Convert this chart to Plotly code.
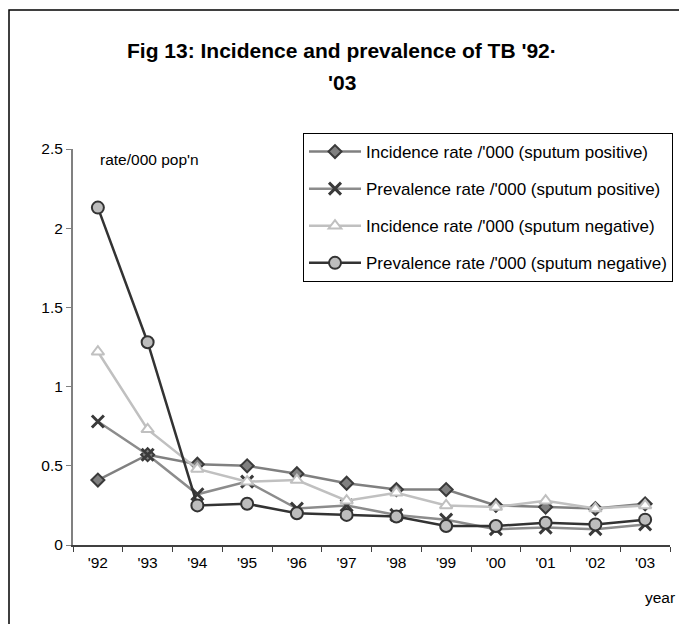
import plotly.graph_objects as go

years = ["'92", "'93", "'94", "'95", "'96", "'97", "'98", "'99", "'00", "'01", "'02", "'03"]
inc_pos = [0.41, 0.57, 0.51, 0.50, 0.45, 0.39, 0.35, 0.35, 0.25, 0.24, 0.23, 0.26]
prev_pos = [0.78, 0.57, 0.32, 0.40, 0.23, 0.25, 0.19, 0.16, 0.10, 0.11, 0.10, 0.13]
inc_neg = [1.22, 0.73, 0.48, 0.40, 0.41, 0.28, 0.33, 0.25, 0.24, 0.28, 0.23, 0.25]
prev_neg = [2.13, 1.28, 0.25, 0.26, 0.20, 0.19, 0.18, 0.12, 0.12, 0.14, 0.13, 0.16]

names = [
    "Incidence rate /'000 (sputum positive)",
    "Prevalence rate /'000 (sputum positive)",
    "Incidence rate /'000 (sputum negative)",
    "Prevalence rate /'000 (sputum negative)",
]

FONT = "Liberation Sans, Arial, sans-serif"

fig = go.Figure()
fig.add_trace(go.Scatter(
    x=years, y=inc_pos, name=names[0], legendgroup="a", mode="lines+markers",
    line=dict(color="#808080", width=2.5),
    marker=dict(symbol="diamond", size=10, color="#808080", line=dict(color="#3a3a3a", width=2)),
))
fig.add_trace(go.Scatter(
    x=years, y=prev_pos, name=names[1], legendgroup="b", mode="lines+markers",
    line=dict(color="#8c8c8c", width=2.5),
    marker=dict(symbol="x-thin", size=12, color="#3a3a3a", line=dict(color="#3a3a3a", width=3)),
))
fig.add_trace(go.Scatter(
    x=years, y=inc_neg, name=names[2], legendgroup="c", mode="lines+markers",
    line=dict(color="#c0c0c0", width=2.5),
    marker=dict(symbol="triangle-up", size=11, color="white", line=dict(color="#c0c0c0", width=2)),
))
fig.add_trace(go.Scatter(
    x=years, y=prev_neg, name=names[3], legendgroup="d", mode="lines+markers",
    line=dict(color="#333333", width=2.5),
    marker=dict(symbol="circle", size=12, color="#bdbdbd", line=dict(color="#333333", width=2)),
))

L, R, T, B = 73, 9, 149, 79
pw, ph = 679 - L - R, 624 - T - B

def px(x):
    return (x - L) / pw

def py(y):
    return (624 - B - y) / ph

fig.update_layout(
    width=679, height=624,
    margin=dict(l=L, r=R, t=T, b=B, autoexpand=False),
    paper_bgcolor="white", plot_bgcolor="white",
    font=dict(family=FONT, size=15, color="black"),
    showlegend=True,
    legend=dict(
        x=px(303), y=py(133), xanchor="left", yanchor="top",
        bordercolor="black", borderwidth=1, bgcolor="white",
        font=dict(family=FONT, size=17, color="black"),
        tracegroupgap=12, itemwidth=52,
    ),
    xaxis=dict(
        type="category", range=[-0.5, 11.5], automargin=False,
        showline=True, linecolor="#404040", linewidth=1.5,
        ticks="outside", tickson="boundaries", ticklen=5, tickcolor="#404040",
        showgrid=False, zeroline=False, ticklabelstandoff=3,
        tickfont=dict(family=FONT, size=15.5, color="black"),
    ),
    yaxis=dict(
        range=[0, 2.5], tickvals=[0, 0.5, 1, 1.5, 2, 2.5], automargin=False,
        ticktext=["0", "0.5", "1", "1.5", "2", "2.5"],
        showline=True, linecolor="#808080", linewidth=2,
        ticks="outside", ticklen=5, tickcolor="#808080",
        showgrid=False, zeroline=False,
        tickfont=dict(family=FONT, size=15.5, color="black"),
    ),
    shapes=[dict(
        type="rect", xref="paper", yref="paper",
        x0=px(9), x1=px(700), y0=py(650), y1=py(10),
        line=dict(color="black", width=1.5), fillcolor="rgba(0,0,0,0)", layer="below",
    )],
    annotations=[
        dict(text="<b>Fig 13: Incidence and prevalence of TB '92·</b>", xref="paper", yref="paper",
             x=px(342), y=py(50), xanchor="center", yanchor="middle", showarrow=False,
             font=dict(family=FONT, size=21, color="black")),
        dict(text="<b>'03</b>", xref="paper", yref="paper",
             x=px(342), y=py(83), xanchor="center", yanchor="middle", showarrow=False,
             font=dict(family=FONT, size=21, color="black")),
        dict(text="rate/000 pop'n", xref="paper", yref="paper", x=px(98), y=py(159),
             xanchor="left", yanchor="middle", showarrow=False,
             font=dict(family=FONT, size=15.5, color="black")),
        dict(text="year", xref="paper", yref="paper", x=px(677), y=py(597),
             xanchor="right", yanchor="middle", showarrow=False,
             font=dict(family=FONT, size=15.5, color="black")),
    ],
)

fig.write_html("out.html")
